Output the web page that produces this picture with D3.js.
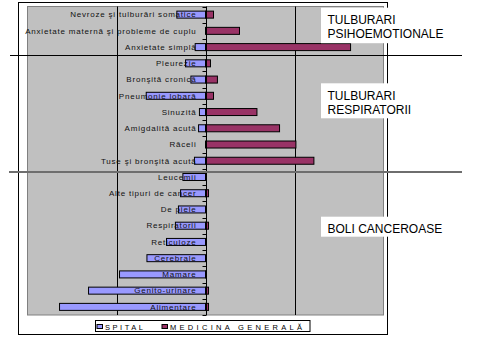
<!DOCTYPE html>
<html><head><meta charset="utf-8">
<script src="https://cdn.jsdelivr.net/npm/d3@7"></script>
<style>body{margin:0;background:#fff}svg{display:block}text{font-family:"Liberation Sans",Arial,sans-serif}</style>
</head><body>
<script>
const categories = ["Nevroze şi tulburări somatice","Anxietate maternă şi probleme de cuplu","Anxietate simplă","Pleurezie","Bronşită cronică","Pneumonie lobară","Sinuzită","Amigdalită acută","Răceli","Tuse şi bronşită acută","Leucemii","Alte tipuri de cancer","De piele","Respiratorii","Reticuloze","Cerebrale","Mamare","Genito-urinare","Alimentare"];
const spital   = [16.1, 0, 5.8, 11.2, 8.2, 33.3, 3.4, 3.9, 0, 6.2, 12.7, 14, 15.2, 16.9, 21.9, 32.9, 48.3, 65.7, 82];
const medicina = [4.5, 19.1, 81.5, 2.8, 6.7, 4.5, 28.9, 41.6, 50.8, 60.9, 0, 1.7, 0, 1.7, 0, 0, 0.5, 1.7, 1.7];
const seriesNames = ["SPITAL","MEDICINA GENERALĂ"];
const groupNames = [["TULBURARI","PSIHOEMOTIONALE"],["TULBURARI","RESPIRATORII"],["BOLI CANCEROASE"]];
const gridTicks = [-50, 50];

const W=480,H=359;
const svg=d3.select("body").append("svg").attr("width",W).attr("height",H);
const P={l:27.5,r:383.5,t:6.5,b:315};
const x=d3.scaleLinear().domain([-100,100]).range([P.l,P.r]);
const y=d3.scaleBand().domain(categories).range([P.t,P.b]);
const blue="#9999FF", maroon="#993366";

// outer frame
svg.append("rect").attr("x",18.5).attr("y",2.5).attr("width",369).attr("height",332).attr("fill","#fff").attr("stroke","#000");
// plot area
svg.append("rect").attr("x",P.l).attr("y",P.t).attr("width",P.r-P.l).attr("height",P.b-P.t).attr("fill","#C0C0C0").attr("stroke","#808080");
// gridlines
svg.selectAll(".grid").data(gridTicks).enter().append("line")
  .attr("x1",d=>Math.round(x(d))+0.5).attr("x2",d=>Math.round(x(d))+0.5)
  .attr("y1",P.t).attr("y2",P.b).attr("stroke","#000");

const bh=7;
const g=svg.append("g");
g.selectAll(".b").data(categories).enter().filter((d,i)=>spital[i]>0).append("rect")
  .attr("x",(d)=>x(-spital[categories.indexOf(d)])).attr("y",d=>y(d)+y.bandwidth()/2-bh/2)
  .attr("width",d=>x(0)-x(-spital[categories.indexOf(d)])).attr("height",bh)
  .attr("fill",blue).attr("stroke","#000").attr("stroke-width",1);
g.selectAll(".m").data(categories).enter().filter((d,i)=>medicina[i]>0).append("rect")
  .attr("x",x(0)).attr("y",d=>y(d)+y.bandwidth()/2-bh/2)
  .attr("width",d=>x(medicina[categories.indexOf(d)])-x(0)).attr("height",bh)
  .attr("fill",maroon).attr("stroke","#000").attr("stroke-width",1);

// zero axis with ticks
const ax=Math.round(x(0))+0.5;
svg.append("line").attr("x1",ax).attr("x2",ax).attr("y1",P.t).attr("y2",P.b).attr("stroke","#000");
const bounds=categories.map(d=>y(d)).concat([P.b]);
svg.selectAll(".tk").data(bounds).enter().append("line")
  .attr("x1",ax-4).attr("x2",ax).attr("y1",d=>Math.round(d)+0.5).attr("y2",d=>Math.round(d)+0.5).attr("stroke","#000");

// category labels
svg.selectAll(".lab").data(categories).enter().append("text")
  .attr("x",196.5).attr("y",d=>y(d)+y.bandwidth()/2+2.8)
  .attr("text-anchor","end").attr("font-size",8).attr("letter-spacing",0.8).attr("fill","#111")
  .text(d=>d);

// divider lines
svg.append("line").attr("x1",10).attr("x2",462).attr("y1",55.5).attr("y2",55.5).attr("stroke","#000");
svg.append("line").attr("x1",9).attr("x2",462).attr("y1",172).attr("y2",172).attr("stroke","#6e6e6e").attr("stroke-width",2);

// group text boxes
const boxes=[{y:7.7,h:35.5},{y:83.3,h:35},{y:216.7,h:20}];
boxes.forEach((b,i)=>{
  svg.append("rect").attr("x",321).attr("y",b.y).attr("width",126).attr("height",b.h).attr("fill","#fff");
  groupNames[i].forEach((t,j)=>{
    svg.append("text").attr("x",327.5).attr("y",b.y+16.3+j*14.3).attr("font-size",12).text(t);
  });
});

// legend
svg.append("rect").attr("x",95.5).attr("y",320.5).attr("width",214.5).attr("height",11).attr("fill","#fff").attr("stroke","#000");
const leg=[{c:blue,sx:96.5,tx:105,tl:38},{c:maroon,sx:161.5,tx:170,tl:132}];
leg.forEach((l,i)=>{
  svg.append("rect").attr("x",l.sx+0.5).attr("y",324.5).attr("width",5.5).attr("height",4).attr("fill",l.c).attr("stroke","#000");
  svg.append("text").attr("x",l.tx).attr("y",329.5).attr("font-size",7.5)
    .attr("textLength",l.tl).attr("lengthAdjust","spacing").text(seriesNames[i]);
});
</script>
</body></html>
